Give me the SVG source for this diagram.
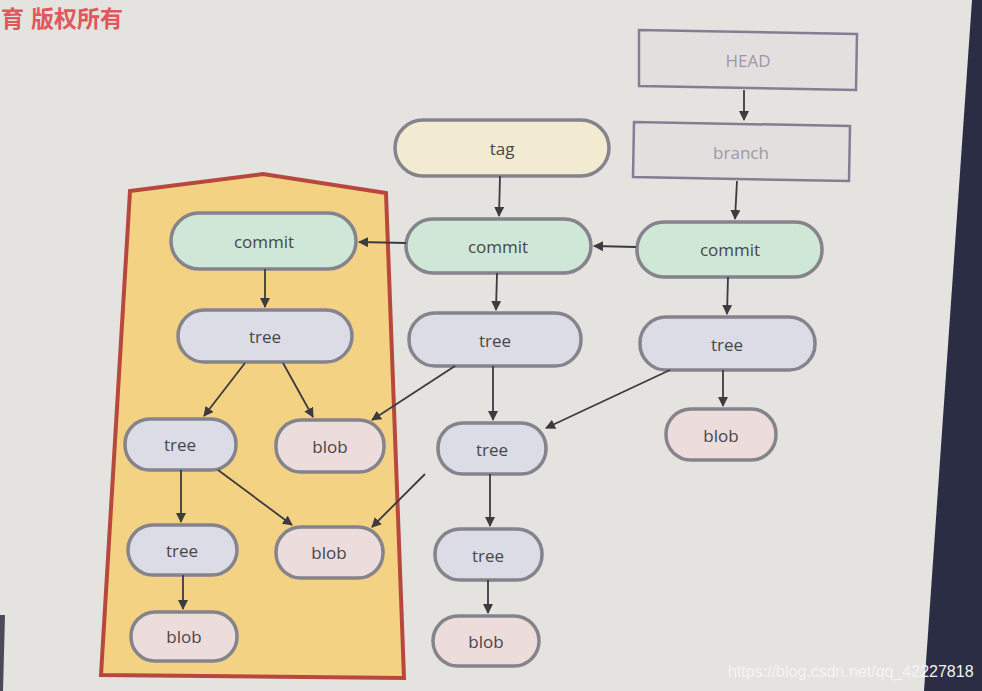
<svg xmlns="http://www.w3.org/2000/svg" width="982" height="691" viewBox="0 0 982 691">
<defs>
<marker id="ah" viewBox="0 0 10 10" refX="9" refY="5" markerWidth="10" markerHeight="10" markerUnits="userSpaceOnUse" orient="auto"><path d="M0,0 L10,5 L0,10 z" fill="#3b3b40"/></marker>
<style>
.pill{stroke:#85838c;stroke-width:3.5}
.commit{fill:#cfe7d6}
.tree{fill:#dcdce7}
.blob{fill:#eddcdc}
.tag{fill:#f3ebd1}
.ref{fill:#e3dfdf;stroke:#847e92;stroke-width:2.5}
.lbl{font-family:"Open Sans","Liberation Sans",sans-serif;font-size:17px;fill:#474747;text-anchor:middle;dominant-baseline:central}
.reflbl{font-family:"Open Sans","Liberation Sans",sans-serif;font-size:17px;fill:#9d98a2;text-anchor:middle;dominant-baseline:central}
.cn{font-family:"Noto Sans CJK SC",sans-serif;font-size:23px;font-weight:bold;fill:#e0585c}
#edges line{stroke:#3b3b40;stroke-width:1.8;marker-end:url(#ah)}
</style>
</defs>
<rect width="982" height="691" fill="#e5e3df"/>
<polygon points="972,0 982,0 982,691 924,691" fill="#2b2d45"/>
<polygon points="0,615 5,615 3,691 0,691" fill="#4a4a5a"/>
<text class="cn" x="1" y="27">育</text>
<text class="cn" x="31" y="27">版权所有</text>
<polygon points="130,191 263,174 386,193 404,678 101,675" fill="#f4d283" stroke="#b8483d" stroke-width="4"/>

<g id="head"><polygon class="ref" points="639,30 857,34 856,90 639,86"/><text class="reflbl" x="748" y="60">HEAD</text></g>
<g id="branch"><polygon class="ref" points="634,122 850,126 849,181 633,177"/><text class="reflbl" x="741" y="152">branch</text></g>
<g id="tag"><rect class="pill tag" x="395" y="120" width="214" height="56" rx="28"/><text class="lbl" x="502" y="148">tag</text></g>
<g id="commit1"><rect class="pill commit" x="171" y="213" width="185" height="56" rx="28"/><text class="lbl" x="264" y="241">commit</text></g>
<g id="commit2"><rect class="pill commit" x="406" y="219" width="185" height="54" rx="27"/><text class="lbl" x="498" y="246">commit</text></g>
<g id="commit3"><rect class="pill commit" x="637" y="222" width="185" height="55" rx="27"/><text class="lbl" x="730" y="249">commit</text></g>
<g id="tree1"><rect class="pill tree" x="178" y="310" width="174" height="52" rx="26"/><text class="lbl" x="265" y="336">tree</text></g>
<g id="tree2"><rect class="pill tree" x="409" y="313" width="172" height="53" rx="26"/><text class="lbl" x="495" y="340">tree</text></g>
<g id="tree3"><rect class="pill tree" x="640" y="317" width="175" height="53" rx="26"/><text class="lbl" x="727" y="344">tree</text></g>
<g id="blobR"><rect class="pill blob" x="666" y="409" width="110" height="51" rx="25"/><text class="lbl" x="721" y="435">blob</text></g>
<g id="treeL2"><rect class="pill tree" x="125" y="419" width="111" height="51" rx="25"/><text class="lbl" x="180" y="444">tree</text></g>
<g id="blobL2"><rect class="pill blob" x="276" y="420" width="108" height="52" rx="25"/><text class="lbl" x="330" y="446">blob</text></g>
<g id="treeM2"><rect class="pill tree" x="438" y="423" width="108" height="51" rx="25"/><text class="lbl" x="492" y="449">tree</text></g>
<g id="treeL3"><rect class="pill tree" x="128" y="525" width="109" height="50" rx="25"/><text class="lbl" x="182" y="550">tree</text></g>
<g id="blobL3"><rect class="pill blob" x="276" y="527" width="107" height="51" rx="25"/><text class="lbl" x="329" y="552">blob</text></g>
<g id="treeM3"><rect class="pill tree" x="435" y="529" width="107" height="51" rx="25"/><text class="lbl" x="488" y="555">tree</text></g>
<g id="blobL4"><rect class="pill blob" x="131" y="612" width="106" height="49" rx="24"/><text class="lbl" x="184" y="636">blob</text></g>
<g id="blobM4"><rect class="pill blob" x="433" y="616" width="106" height="50" rx="25"/><text class="lbl" x="486" y="641">blob</text></g>

<g id="edges">
<line x1="744" y1="90" x2="744" y2="120"/>
<line x1="737" y1="181" x2="735" y2="219"/>
<line x1="500" y1="176" x2="499" y2="216"/>
<line x1="636" y1="247" x2="594" y2="246"/>
<line x1="406" y1="243" x2="359" y2="242"/>
<line x1="265" y1="269" x2="265" y2="307"/>
<line x1="497" y1="273" x2="496" y2="310"/>
<line x1="728" y1="277" x2="727" y2="314"/>
<line x1="245" y1="363" x2="204" y2="416"/>
<line x1="283" y1="363" x2="313" y2="417"/>
<line x1="455" y1="366" x2="372" y2="420"/>
<line x1="493" y1="366" x2="493" y2="420"/>
<line x1="670" y1="370" x2="546" y2="428"/>
<line x1="723" y1="370" x2="723" y2="406"/>
<line x1="181" y1="470" x2="181" y2="522"/>
<line x1="218" y1="470" x2="292" y2="525"/>
<line x1="425" y1="474" x2="372" y2="527"/>
<line x1="490" y1="474" x2="490" y2="526"/>
<line x1="183" y1="575" x2="183" y2="609"/>
<line x1="488" y1="580" x2="488" y2="613"/>
</g>
<text x="728" y="677" font-family="'Liberation Sans',sans-serif" font-size="16" fill="#f4f4f4">https://blog.csdn.net/qq_42227818</text>
</svg>
